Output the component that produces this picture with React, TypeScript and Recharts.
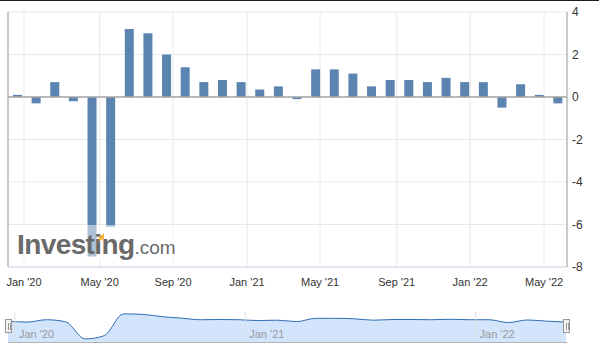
import React from "react";
import {
  BarChart,
  Bar,
  AreaChart,
  Area,
  XAxis,
  YAxis,
  CartesianGrid,
  ReferenceLine,
} from "recharts";

// Monthly readings, Jan 2020 .. Jun 2022
const months = [
  "Jan 2020", "Feb 2020", "Mar 2020", "Apr 2020", "May 2020", "Jun 2020",
  "Jul 2020", "Aug 2020", "Sep 2020", "Oct 2020", "Nov 2020", "Dec 2020",
  "Jan 2021", "Feb 2021", "Mar 2021", "Apr 2021", "May 2021", "Jun 2021",
  "Jul 2021", "Aug 2021", "Sep 2021", "Oct 2021", "Nov 2021", "Dec 2021",
  "Jan 2022", "Feb 2022", "Mar 2022", "Apr 2022", "May 2022", "Jun 2022",
];

const values = [
  0.1, -0.3, 0.7, -0.2, -7.5, -6.1, 3.2, 3.0, 2.0, 1.4, 0.7, 0.8,
  0.7, 0.35, 0.5, -0.1, 1.3, 1.3, 1.1, 0.5, 0.8, 0.8, 0.7, 0.9,
  0.7, 0.7, -0.5, 0.6, 0.1, -0.3,
];

// x ticks sit a little after the bar positions (time based axis)
const xTickValues = [0.36, 4.42, 8.36, 12.33, 16.25, 20.36, 24.3, 28.27];
const xTickLabels = ["Jan '20", "May '20", "Sep '20", "Jan '21", "May '21", "Sep '21", "Jan '22", "May '22"];
const yTicks = [-8, -6, -4, -2, 0, 2, 4];

const navTickValues = [0.36, 12.33, 24.3];
const navTickLabels = ["Jan '20", "Jan '21", "Jan '22"];

const data = values.map((value, idx) => ({ idx, name: months[idx], value }));

const FONT = "'Liberation Sans', Arial, sans-serif";
const BAR_COLOR = "#5b84b1";

const xLabel = (v: number) => {
  const i = xTickValues.indexOf(v);
  return i >= 0 ? xTickLabels[i] : "";
};

const Handle = ({ left }: { left: number }) => (
  <div
    style={{
      position: "absolute",
      left,
      top: 319,
      width: 7,
      height: 14,
      background: "#f2f2f2",
      border: "1px solid #999",
      boxSizing: "border-box",
    }}
  >
    <div style={{ position: "absolute", left: 1.5, top: 3, width: 1, height: 7, background: "#999" }} />
    <div style={{ position: "absolute", left: 3.5, top: 3, width: 1, height: 7, background: "#999" }} />
  </div>
);

export default function App() {
  return (
    <div
      style={{
        position: "absolute",
        left: 0,
        top: 0,
        width: 599,
        height: 352,
        background: "#fff",
        fontFamily: FONT,
        overflow: "hidden",
      }}
    >
      {/* top rule */}
      <div style={{ position: "absolute", left: 0, top: 0, width: 599, height: 1, background: "#1c1c1c" }} />

      <div style={{ position: "absolute", left: 0, top: 0 }}>
        <BarChart width={599} height={292} data={data} margin={{ top: 12, right: 0, bottom: 0, left: 8 }}>
          <CartesianGrid stroke="#e9e9e9" />
          <XAxis
            dataKey="idx"
            type="number"
            domain={[-0.5, 29.5]}
            allowDataOverflow
            ticks={xTickValues}
            tickFormatter={xLabel}
            interval={0}
            height={25}
            axisLine={{ stroke: "#ccd6eb" }}
            tickLine={false}
            tickSize={0}
            tickMargin={11}
            tick={{ fontSize: 11, fill: "#333" }}
          />
          <YAxis
            orientation="right"
            type="number"
            domain={[-8, 4]}
            allowDataOverflow
            ticks={yTicks}
            interval={0}
            width={32}
            axisLine={{ stroke: "#a0a0a0" }}
            tickLine={false}
            tickSize={0}
            tickMargin={5}
            tick={{ fontSize: 12, fill: "#333", textAnchor: "start" }}
          />
          <ReferenceLine x={-0.5} stroke="#a0a0a0" />
          <Bar dataKey="value" fill={BAR_COLOR} barSize={9} isAnimationActive={false} />
          <ReferenceLine y={0} stroke="#a6a6a6" strokeWidth={1.5} />
        </BarChart>
      </div>

      {/* watermark */}
      <div
        style={{
          position: "absolute",
          left: 14,
          top: 225,
          width: 170,
          height: 36,
          background: "rgba(255,255,255,0.5)",
        }}
      />
      <div
        style={{
          position: "absolute",
          left: 17,
          top: 229,
          whiteSpace: "nowrap",
          color: "#6a6a6a",
          lineHeight: "32px",
        }}
      >
        <span style={{ fontSize: 28, fontWeight: 700, letterSpacing: -0.6 }}>Investing</span>
        <span style={{ fontSize: 19, fontWeight: 400 }}>.com</span>
      </div>
      <div
        style={{
          position: "absolute",
          left: 99,
          top: 235,
          width: 5,
          height: 5,
          background: "#f5b335",
          transform: "skewY(-30deg)",
        }}
      />

      {/* navigator */}
      <div style={{ position: "absolute", left: 0, top: 300 }}>
        <AreaChart width={599} height={52} data={data} margin={{ top: 12, right: 33, bottom: 10, left: 8 }}>
          <XAxis dataKey="idx" type="number" domain={[0, 29]} hide />
          <YAxis type="number" domain={[-8.8, 4]} allowDataOverflow hide />
          <Area
            type="monotone"
            dataKey="value"
            stroke="#2f6db4"
            strokeWidth={1}
            fill="#d2e5fc"
            fillOpacity={1}
            baseValue="dataMin"
            isAnimationActive={false}
          />
          {navTickValues.map((v, i) => (
            <ReferenceLine
              key={v}
              x={v}
              stroke="#e0e0e0"
              label={(props: any) => (
                <text
                  x={props.viewBox.x + 4}
                  y={38}
                  fontSize={11}
                  fill="#999"
                  textAnchor="start"
                >
                  {navTickLabels[i]}
                </text>
              )}
            />
          ))}
        </AreaChart>
      </div>
      <div style={{ position: "absolute", left: 8, top: 342, width: 559, height: 1, background: "#b3b3b3" }} />
      <Handle left={5} />
      <Handle left={563} />
    </div>
  );
}
